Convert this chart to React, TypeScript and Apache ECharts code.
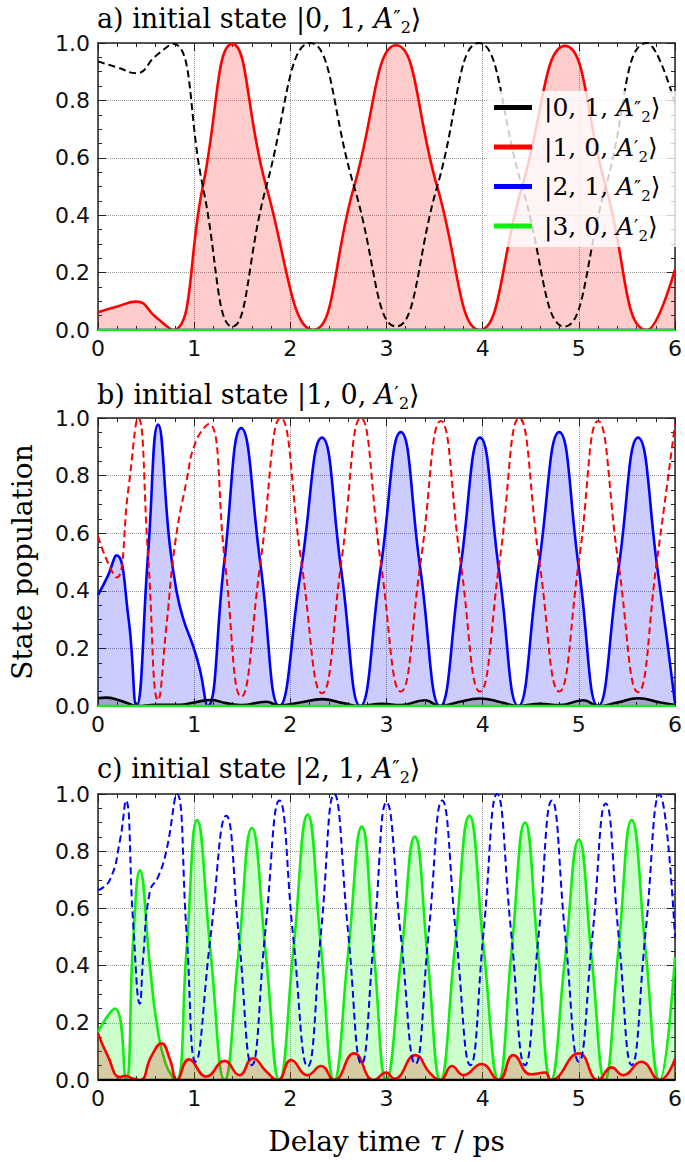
import React, { useEffect, useRef } from "react";
import * as echarts from "echarts";

// ---------- state names ----------
const S0 = "|0, 1, A″₂⟩";
const S1 = "|1, 0, A′₂⟩";
const S2 = "|2, 1, A″₂⟩";
const S3 = "|3, 0, A′₂⟩";

// ---------- axis ticks ----------
const xTicks = [0, 1, 2, 3, 4, 5, 6];
const yTicks = [0, 0.2, 0.4, 0.6, 0.8, 1.0];

// ---------- panel a: initial state |0,1,A2''> ----------
const aRed = [[0,0.062],[0.2,0.082],[0.4,0.099],[0.6,0.045],[0.78,0],[1.09,0.5],[1.396,0.997],[1.75,0.5],[2.24,0],[2.663,0.5],[3.1,0.992],[3.527,0.5],[3.97,0],[4.41,0.5],[4.857,0.99],[5.28,0.5],[5.71,0],[6,0.21]];
const aBlack = [[0,0.936],[0.2,0.915],[0.4,0.895],[0.6,0.955],[0.78,0.997],[1.09,0.5],[1.396,0.012],[1.75,0.5],[2.207,1.0],[2.663,0.5],[3.1,0.012],[3.527,0.5],[3.96,1.0],[4.41,0.5],[4.85,0.012],[5.28,0.5],[5.71,1.0],[6,0.79]];
const aBlue = [[0,0],[6,0]];
const aGreen = [[0,0],[6,0]];

// ---------- panel b: initial state |1,0,A2'> ----------
const bBlue = [[0,0.386],[0.1,0.45],[0.193,0.523],[0.317,0.305],[0.40,0],[0.52,0.525],[0.625,0.977],[0.746,0.56],[0.816,0.40],[0.884,0.305],[0.987,0.21],[1.057,0.13],[1.14,0],[1.31,0.49],[1.489,0.965],[1.69,0.49],[1.886,0],[2.11,0.47],[2.329,0.932],[2.53,0.47],[2.727,0],[2.94,0.48],[3.149,0.951],[3.35,0.48],[3.557,0],[3.765,0.47],[3.972,0.932],[4.17,0.47],[4.37,0],[4.58,0.48],[4.796,0.951],[5.0,0.48],[5.2,0],[5.41,0.47],[5.616,0.932],[5.82,0.47],[6,0.01]];
const bRed = [[0,0.589],[0.1,0.5],[0.193,0.446],[0.317,0.757],[0.418,1.0],[0.52,0.525],[0.625,0.02],[0.715,0.29],[0.8,0.56],[0.92,0.78],[1.02,0.92],[1.153,0.979],[1.32,0.5],[1.489,0.032],[1.69,0.5],[1.9,1.0],[2.115,0.5],[2.329,0.044],[2.53,0.5],[2.733,1.0],[2.94,0.5],[3.149,0.05],[3.355,0.5],[3.564,0.99],[3.77,0.5],[3.972,0.05],[4.175,0.5],[4.38,1.0],[4.59,0.5],[4.796,0.05],[5.0,0.5],[5.2,0.99],[5.41,0.5],[5.616,0.048],[5.81,0.5],[6,0.978]];
const bBlack = [[0,0.027],[0.08,0.029],[0.2,0.022],[0.32,0.008],[0.4,0],[0.6,0.004],[0.85,0.004],[1.0,0.012],[1.17,0.021],[1.33,0.01],[1.489,0.003],[1.75,0.015],[1.886,0.002],[2.1,0.012],[2.33,0.024],[2.55,0.01],[2.727,0],[2.95,0.008],[3.15,0.003],[3.4,0.02],[3.557,0],[3.75,0.014],[3.97,0.026],[4.2,0.012],[4.37,0],[4.6,0.008],[4.8,0.003],[5.05,0.02],[5.2,0],[5.4,0.012],[5.616,0.027],[5.85,0.012],[6,0.003]];
const bGreen = [[0,0],[6,0]];

// ---------- panel c: initial state |2,1,A2''> ----------
const cGreen = [[0,0.169],[0.176,0.25],[0.29,0],[0.366,0.49],[0.435,0.733],[0.54,0.4],[0.61,0.2],[0.70,0.06],[0.81,0],[0.92,0.45],[1.03,0.909],[1.17,0.45],[1.316,0],[1.46,0.44],[1.60,0.881],[1.745,0.44],[1.886,0],[2.033,0.46],[2.18,0.928],[2.32,0.46],[2.456,0],[2.6,0.44],[2.743,0.886],[2.87,0.44],[2.998,0],[3.15,0.42],[3.295,0.851],[3.43,0.42],[3.56,0],[3.71,0.46],[3.862,0.924],[4.01,0.46],[4.166,0],[4.30,0.45],[4.44,0.90],[4.575,0.45],[4.71,0],[4.855,0.42],[5.0,0.84],[5.135,0.42],[5.27,0],[5.41,0.45],[5.55,0.909],[5.695,0.45],[5.84,0],[6,0.43]];
const cBlue = [[0,0.663],[0.124,0.70],[0.228,0.837],[0.29,0.977],[0.366,0.547],[0.435,0.267],[0.47,0.43],[0.54,0.66],[0.625,0.71],[0.71,0.80],[0.82,1.0],[0.92,0.52],[1.015,0.064],[1.17,0.5],[1.333,0.924],[1.465,0.5],[1.60,0.052],[1.74,0.52],[1.886,0.977],[2.03,0.5],[2.18,0.047],[2.32,0.52],[2.456,1.0],[2.6,0.52],[2.74,0.056],[2.87,0.5],[3.0,0.971],[3.15,0.5],[3.3,0.056],[3.44,0.52],[3.578,0.977],[3.725,0.5],[3.872,0.052],[4.01,0.52],[4.15,1.0],[4.295,0.52],[4.44,0.052],[4.58,0.5],[4.72,0.977],[4.86,0.5],[5.0,0.064],[5.14,0.5],[5.28,0.967],[5.415,0.5],[5.55,0.052],[5.695,0.52],[5.84,0.998],[6,0.5]];
const cRed = [[0,0.163],[0.1,0.085],[0.23,0.01],[0.29,0.015],[0.36,0.005],[0.44,0],[0.55,0.08],[0.66,0.128],[0.75,0.07],[0.82,0],[0.946,0.072],[1.126,0.012],[1.316,0.067],[1.47,0.017],[1.61,0.076],[1.75,0.03],[1.87,0],[2.007,0.07],[2.18,0.017],[2.32,0.049],[2.456,0],[2.663,0.093],[2.87,0],[2.998,0.026],[3.08,0.004],[3.3,0.087],[3.45,0.025],[3.56,0],[3.68,0.049],[3.8,0.017],[3.99,0.056],[4.166,0],[4.32,0.087],[4.5,0.02],[4.65,0.026],[4.71,0],[5.0,0.093],[5.2,0],[5.34,0.044],[5.46,0.017],[5.65,0.064],[5.84,0],[6,0.075]];
const cBlack = [[0,0],[6,0]];

// ---------- styling ----------
const SERIF = "'DejaVu Serif', serif";
const SANS = "'DejaVu Sans', sans-serif";
const AXIS_COLOR = "#222";
const C_BLACK = "#000000";
const C_RED = "#ff0000";
const C_BLUE = "#0000ff";
const C_GREEN = "#11ee11";

const GRIDS = [
  { left: 98, top: 43, width: 579, height: 287 },
  { left: 98, top: 418, width: 579, height: 288 },
  { left: 98, top: 794, width: 579, height: 286 },
];

const KETS: Record<string, string> = {
  [S0]: "{m||0, 1, }{i|A}{p|″}{s|2}{n|⟩}",
  [S1]: "{m||1, 0, }{i|A}{p|′}{s|2}{n|⟩}",
  [S2]: "{m||2, 1, }{i|A}{p|″}{s|2}{n|⟩}",
  [S3]: "{m||3, 0, }{i|A}{p|′}{s|2}{n|⟩}",
};

function makeRich(size: number, lh: number, padLeft: number) {
  const common = { fontFamily: SERIF, fontWeight: "normal", color: "#000" };
  return {
    m: { ...common, fontSize: size, lineHeight: lh, padding: [0, 0, 0, padLeft] },
    n: { ...common, fontSize: size, lineHeight: lh },
    i: { ...common, fontStyle: "italic", fontSize: size, lineHeight: lh },
    p: { ...common, fontSize: Math.round(size * 0.75), lineHeight: lh },
    s: { ...common, fontSize: Math.round(size * 0.6), lineHeight: Math.round(size * 0.75), verticalAlign: "bottom" },
  };
}

const titleRich = makeRich(27, 34, 0);
const legendRich = makeRich(25, 34, 7);

function panelTitle(letter: string, ket: string) {
  return "{n|" + letter + ") initial state }" + ket.replace("{m|", "{n|");
}

function xAxes(gi: number, withName: boolean) {
  const base = {
    type: "value",
    gridIndex: gi,
    min: xTicks[0],
    max: xTicks[xTicks.length - 1],
    interval: 1,
    axisLine: { show: true, onZero: false, lineStyle: { color: AXIS_COLOR, width: 1.5 } },
    axisTick: { show: true, inside: true, length: 8, lineStyle: { color: AXIS_COLOR, width: 1 } },
    minorTick: { show: true, splitNumber: 5, length: 4, lineStyle: { color: AXIS_COLOR, width: 1 } },
  };
  return [
    {
      ...base,
      position: "bottom",
      axisLabel: { show: true, fontFamily: SANS, fontSize: 22, color: "#111", margin: 7 },
      splitLine: { show: true, lineStyle: { color: "#999", type: "dotted", width: 1 } },
      ...(withName
        ? {
            name: "{n|Delay time }{i|τ}{n| / ps}",
            nameLocation: "middle",
            nameGap: 47,
            nameTextStyle: {
              rich: {
                n: { fontFamily: SERIF, fontSize: 28, color: "#000" },
                i: { fontFamily: SERIF, fontSize: 28, fontStyle: "italic", color: "#000" },
              },
            },
          }
        : {}),
    },
    { ...base, position: "top", axisLabel: { show: false }, splitLine: { show: false } },
  ];
}

function yAxes(gi: number, withName: boolean) {
  const base = {
    type: "value",
    gridIndex: gi,
    min: yTicks[0],
    max: yTicks[yTicks.length - 1],
    interval: 0.2,
    axisLine: { show: true, onZero: false, lineStyle: { color: AXIS_COLOR, width: 1.5 } },
    axisTick: { show: true, inside: true, length: 8, lineStyle: { color: AXIS_COLOR, width: 1 } },
    minorTick: { show: true, splitNumber: 4, length: 4, lineStyle: { color: AXIS_COLOR, width: 1 } },
  };
  return [
    {
      ...base,
      position: "left",
      axisLabel: {
        show: true,
        fontFamily: SANS,
        fontSize: 22,
        color: "#111",
        margin: 8,
        formatter: (v: number) => v.toFixed(1),
      },
      splitLine: { show: true, lineStyle: { color: "#999", type: "dotted", width: 1 } },
      ...(withName
        ? {
            name: "State population",
            nameLocation: "middle",
            nameGap: 62,
            nameRotate: 90,
            nameTextStyle: { fontFamily: SERIF, fontSize: 28, color: "#000" },
          }
        : {}),
    },
    { ...base, position: "right", axisLabel: { show: false }, splitLine: { show: false } },
  ];
}

function ser(
  name: string,
  data: number[][],
  gi: number,
  color: string,
  z: number,
  dashed: boolean,
  fill: string | null
) {
  return {
    type: "line",
    name,
    xAxisIndex: gi * 2,
    yAxisIndex: gi * 2,
    data,
    smooth: true,
    symbol: "none",
    showSymbol: false,
    silent: true,
    z,
    color,
    itemStyle: { color },
    lineStyle: dashed
      ? { color, width: 2, type: [7, 4] }
      : { color, width: 2.6, type: "solid" },
    ...(fill ? { areaStyle: { color: fill, opacity: 1 } } : {}),
  };
}

const FILL_RED = "rgba(255,0,0,0.2)";
const FILL_BLUE = "rgba(0,0,255,0.2)";
const FILL_GREEN = "rgba(0,255,0,0.2)";
const FILL_BLACK = "rgba(0,0,0,0.2)";

export default function App() {
  const ref = useRef<HTMLDivElement>(null);
  useEffect(() => {
    document.body.style.margin = "0";
    const chart = echarts.init(ref.current!, undefined, { renderer: "svg" });
    const option: any = {
      animation: false,
      backgroundColor: "#ffffff",
      grid: GRIDS,
      title: [
        { text: panelTitle("a", KETS[S0]), left: 97, top: 1, padding: 0, textStyle: { fontWeight: "normal", rich: titleRich } },
        { text: panelTitle("b", KETS[S1]), left: 97, top: 377, padding: 0, textStyle: { fontWeight: "normal", rich: titleRich } },
        { text: panelTitle("c", KETS[S2]), left: 97, top: 751, padding: 0, textStyle: { fontWeight: "normal", rich: titleRich } },
      ],
      legend: {
        show: true,
        orient: "vertical",
        left: 488,
        top: 91,
        icon: "rect",
        itemWidth: 38,
        itemHeight: 5,
        itemGap: 10,
        padding: [4, 16, 4, 6],
        backgroundColor: "rgba(255,255,255,0.8)",
        selectedMode: false,
        data: [
          { name: S0, itemStyle: { color: C_BLACK }, lineStyle: { type: "solid" } },
          { name: S1, itemStyle: { color: C_RED } },
          { name: S2, itemStyle: { color: C_BLUE } },
          { name: S3, itemStyle: { color: C_GREEN } },
        ],
        formatter: (name: string) => KETS[name],
        textStyle: { rich: legendRich },
      },
      xAxis: [...xAxes(0, false), ...xAxes(1, false), ...xAxes(2, true)],
      yAxis: [...yAxes(0, false), ...yAxes(1, true), ...yAxes(2, false)],
      series: [
        // panel a
        ser(S1, aRed, 0, C_RED, 2, false, FILL_RED),
        ser(S0, aBlack, 0, C_BLACK, 3, true, null),
        ser(S2, aBlue, 0, C_BLUE, 4, false, null),
        ser(S3, aGreen, 0, C_GREEN, 5, false, null),
        // panel b
        ser(S2, bBlue, 1, C_BLUE, 2, false, FILL_BLUE),
        ser(S0, bBlack, 1, C_BLACK, 3, false, FILL_BLACK),
        ser(S1, bRed, 1, C_RED, 4, true, null),
        ser(S3, bGreen, 1, C_GREEN, 5, false, null),
        // panel c
        ser(S3, cGreen, 2, C_GREEN, 2, false, FILL_GREEN),
        ser(S1, cRed, 2, C_RED, 3, false, FILL_RED),
        ser(S2, cBlue, 2, C_BLUE, 4, true, null),
        ser(S0, cBlack, 2, C_BLACK, 5, false, null),
      ],
    };
    chart.setOption(option);
    return () => chart.dispose();
  }, []);
  return (
    <div
      ref={ref}
      style={{ width: 685, height: 1162, position: "absolute", left: 0, top: 0 }}
    />
  );
}
